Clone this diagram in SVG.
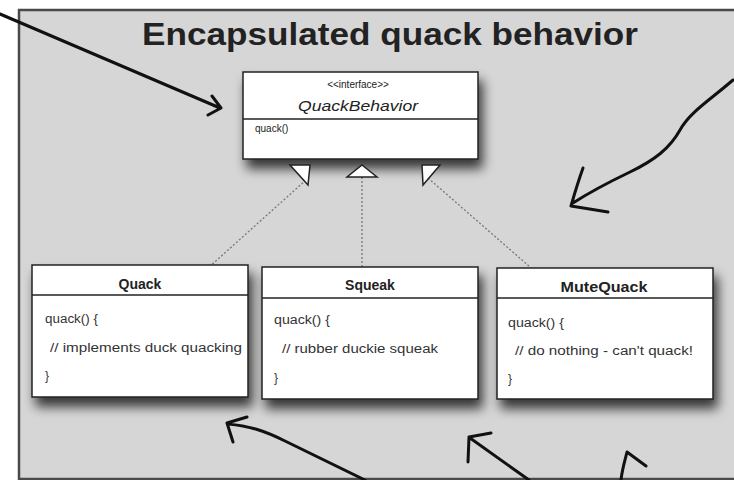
<svg xmlns="http://www.w3.org/2000/svg" width="734" height="480" viewBox="0 0 734 480">
<defs>
<filter id="sh" x="-20%" y="-20%" width="150%" height="170%">
<feDropShadow dx="4" dy="9" stdDeviation="6" flood-color="#000" flood-opacity="0.75"/>
</filter>
</defs>
<style>
.box{fill:#fff;stroke:#222;stroke-width:1.5}
.div{stroke:#222;stroke-width:1.5}
.t{font-family:"Liberation Sans",Arial,sans-serif;fill:#222}
.ttl{font-size:14px;font-weight:bold;text-anchor:middle}
.bd{font-size:12px;fill:#333}
.dep{stroke:#777;stroke-width:1.3;stroke-dasharray:2 2;fill:none}
.tri{fill:#fff;stroke:#222;stroke-width:1.5}
.hand{stroke:#111;stroke-width:3;fill:none;stroke-linecap:round;stroke-linejoin:round}
</style>
<rect x="0" y="0" width="734" height="480" fill="#fff"/>
<rect x="19" y="10" width="730" height="469" fill="#d6d6d6" stroke="#4a4a4a" stroke-width="2.5"/>
<text class="t" x="390" y="45" font-size="32" font-weight="bold" text-anchor="middle" textLength="496" lengthAdjust="spacingAndGlyphs">Encapsulated quack behavior</text>

<g id="connectors">
<path class="dep" d="M306 180 L208 268"/>
<path class="dep" d="M362 177 L362 268"/>
<path class="dep" d="M428 178 L530 267"/>
<path class="hand" d="M0 14 L220 108 M212 96 L221 108 L208 115"/>
<path class="hand" d="M733 80 C710 100 690 112 680 130 C670 148 655 160 630 172 C605 184 590 192 573 203 M583 168 C578 182 575 192 571 206 L608 212"/>
<path class="hand" d="M365 480 L285 441 C265 431 250 426 228 424 M227 423 L247 417 M227 423 L233 442"/>
<path class="hand" d="M529 480 L470 438 M469 437 L491 433 M469 437 L468 462"/>
<path class="hand" d="M621 480 C622 470 625 460 627 452 L646 466"/>
</g>

<g id="QuackBehavior">
<rect class="box" x="243" y="72" width="235" height="87" filter="url(#sh)"/>
<line class="div" x1="243" y1="119" x2="478" y2="119"/>
<text class="t" x="358" y="88" font-size="10" text-anchor="middle">&lt;&lt;interface&gt;&gt;</text>
<text class="t" x="358" y="111" font-size="14" font-style="italic" text-anchor="middle" textLength="120" lengthAdjust="spacingAndGlyphs">QuackBehavior</text>
<text class="t" x="255" y="132" font-size="10">quack()</text>
<polygon class="tri" points="290,165 310,165 308,185"/>
<polygon class="tri" points="362,165 377,177 347,177"/>
<polygon class="tri" points="422,165 440,165 423,185"/>
</g>

<g id="Quack">
<rect class="box" x="32" y="265" width="216" height="132" filter="url(#sh)"/>
<line class="div" x1="32" y1="295" x2="248" y2="295"/>
<text class="t ttl" x="140" y="289">Quack</text>
<text class="t bd" x="45" y="323" textLength="53" lengthAdjust="spacingAndGlyphs">quack() {</text>
<text class="t bd" x="50" y="352" textLength="192" lengthAdjust="spacingAndGlyphs">// implements duck quacking</text>
<text class="t bd" x="45" y="380">}</text>
</g>

<g id="Squeak">
<rect class="box" x="262" y="267" width="216" height="132" filter="url(#sh)"/>
<line class="div" x1="262" y1="298" x2="478" y2="298"/>
<text class="t ttl" x="370" y="290">Squeak</text>
<text class="t bd" x="274" y="324" textLength="56" lengthAdjust="spacingAndGlyphs">quack() {</text>
<text class="t bd" x="282" y="353" textLength="156" lengthAdjust="spacingAndGlyphs">// rubber duckie squeak</text>
<text class="t bd" x="274" y="382">}</text>
</g>

<g id="MuteQuack">
<rect class="box" x="497" y="268" width="216" height="131" filter="url(#sh)"/>
<line class="div" x1="497" y1="298" x2="713" y2="298"/>
<text class="t ttl" x="604" y="292" textLength="87" lengthAdjust="spacingAndGlyphs">MuteQuack</text>
<text class="t bd" x="508" y="327" textLength="56" lengthAdjust="spacingAndGlyphs">quack() {</text>
<text class="t bd" x="515" y="355" textLength="178" lengthAdjust="spacingAndGlyphs">// do nothing - can't quack!</text>
<text class="t bd" x="508" y="383">}</text>
</g>
</svg>
